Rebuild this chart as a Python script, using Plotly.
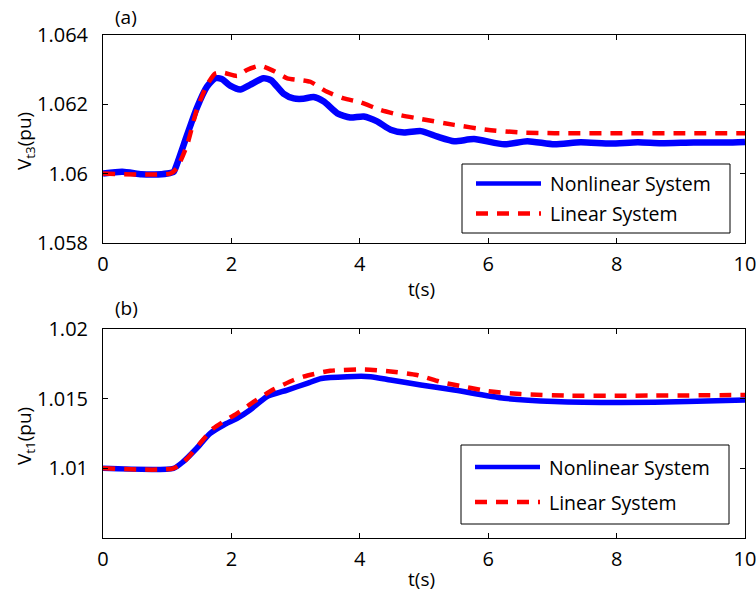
import plotly.graph_objects as go

# ---------------- data ----------------
t_nl_a = [0, 0.3, 0.6, 0.8, 1.0, 1.1, 1.15, 1.31, 1.46, 1.62, 1.75, 1.85, 1.98, 2.14, 2.29,
          2.5, 2.62, 2.81, 2.97, 3.12, 3.28, 3.44, 3.65, 3.85, 4.06, 4.27, 4.48, 4.69, 4.95,
          5.21, 5.47, 5.78, 6.25, 6.61, 7.03, 7.44, 7.91, 8.33, 8.69, 9.2, 9.7, 10]
v_nl_a = [1.0600, 1.06005, 1.05998, 1.05997, 1.06, 1.06005, 1.06026, 1.06111, 1.06188, 1.0625,
          1.06274, 1.06272, 1.06253, 1.06242, 1.06255, 1.06274, 1.06268, 1.0623, 1.06216,
          1.06215, 1.0622, 1.06207, 1.06173, 1.06161, 1.06164, 1.0615, 1.06126, 1.06118,
          1.06122, 1.06106, 1.06093, 1.06099, 1.06084, 1.06093, 1.06084, 1.0609, 1.06086,
          1.0609, 1.06087, 1.06089, 1.06089, 1.06091]

t_l_a = [0, 1.05, 1.15, 1.31, 1.46, 1.62, 1.75, 1.88, 2.09, 2.24, 2.45, 2.66, 2.87, 3.07, 3.23,
         3.49, 3.75, 4.01, 4.32, 4.63, 4.95, 5.47, 5.98, 6.5, 7.03, 8, 9, 10]
v_l_a = [1.06, 1.06, 1.06015, 1.06082, 1.06183, 1.06255, 1.06288, 1.0629, 1.06281, 1.06298,
         1.0631, 1.06295, 1.06274, 1.06269, 1.06264, 1.06235, 1.06216, 1.06205, 1.06183,
         1.06168, 1.06157, 1.0614, 1.06126, 1.06118, 1.06116, 1.06116, 1.06116, 1.06116]

t_nl_b = [0, 1.1, 1.25, 1.46, 1.67, 1.88, 2.09, 2.29, 2.55, 2.87, 3.18, 3.4, 3.8, 4.17, 4.48,
          4.95, 5.47, 6.25, 7.03, 8.07, 9.1, 10]
v_nl_b = [1.01, 1.01, 1.01048, 1.01144, 1.01251, 1.01311, 1.01359, 1.01419, 1.01514, 1.01562,
          1.0161, 1.01645, 1.01658, 1.01658, 1.01634, 1.01598, 1.01562, 1.01503, 1.01479,
          1.01472, 1.01479, 1.0149]

t_l_b = [0, 1.1, 1.3, 1.51, 1.72, 2.09, 2.35, 2.66, 2.97, 3.12, 3.54, 4.06, 4.48, 4.89, 5.26,
         5.47, 5.98, 6.5, 7.29, 8.07, 10]
v_l_b = [1.01, 1.01, 1.01065, 1.01179, 1.01287, 1.01395, 1.01478, 1.01567, 1.01634, 1.01658,
         1.017, 1.0171, 1.01695, 1.0167, 1.0162, 1.016, 1.01555, 1.01533, 1.01521, 1.01521,
         1.01526]

x_ticks = [0, 2, 4, 6, 8, 10]
y_ticks_a = [1.058, 1.06, 1.062, 1.064]
y_tick_text_a = ["1.058", "1.06", "1.062", "1.064"]
y_ticks_b = [1.01, 1.015, 1.02]
y_tick_text_b = ["1.01", "1.015", "1.02"]

names = ["Nonlinear System", "Linear System"]

# ---------------- figure ----------------
FONT = "Open Sans"
W, H = 756, 598
blue = "#0000FF"
red = "#FF0000"
DASH = "12px,9px"

fig = go.Figure()
fig.add_trace(go.Scatter(x=t_nl_a, y=v_nl_a, mode="lines", name=names[0], showlegend=False,
                         line=dict(color=blue, width=6.5, shape="spline", smoothing=0.6),
                         xaxis="x", yaxis="y"))
fig.add_trace(go.Scatter(x=t_l_a, y=v_l_a, mode="lines", name=names[1], showlegend=False,
                         line=dict(color=red, width=4.5, dash=DASH, shape="spline", smoothing=0.6),
                         xaxis="x", yaxis="y"))
fig.add_trace(go.Scatter(x=t_nl_b, y=v_nl_b, mode="lines", name=names[0], showlegend=False,
                         line=dict(color=blue, width=5.5, shape="spline", smoothing=0.6),
                         xaxis="x2", yaxis="y2"))
fig.add_trace(go.Scatter(x=t_l_b, y=v_l_b, mode="lines", name=names[1], showlegend=False,
                         line=dict(color=red, width=4.5, dash=DASH, shape="spline", smoothing=0.6),
                         xaxis="x2", yaxis="y2"))

xdom = [103 / W, 745 / W]
ydom_a = [1 - 243 / H, 1 - 34.5 / H]
ydom_b = [1 - 538 / H, 1 - 329 / H]

axis_common = dict(showline=True, linecolor="black", linewidth=1, mirror="ticks",
                   ticks="inside", ticklen=5, tickcolor="black", showgrid=False,
                   zeroline=False, automargin=False, ticklabeloverflow="allow",
                   tickfont=dict(family=FONT, size=20, color="black"))

fig.update_layout(
    width=W, height=H,
    margin=dict(l=0, r=0, t=0, b=0, autoexpand=False),
    paper_bgcolor="white", plot_bgcolor="white",
    font=dict(family=FONT, color="black"),
    xaxis=dict(domain=xdom, range=[0, 10], tickvals=x_ticks, anchor="y",
               ticklabelstandoff=3, **axis_common),
    yaxis=dict(domain=ydom_a, range=[1.058, 1.064], tickvals=y_ticks_a, ticktext=y_tick_text_a,
               anchor="x", ticklabelstandoff=10, **axis_common),
    xaxis2=dict(domain=xdom, range=[0, 10], tickvals=x_ticks, anchor="y2",
                ticklabelstandoff=3, **axis_common),
    yaxis2=dict(domain=ydom_b, range=[1.005, 1.02], tickvals=y_ticks_b, ticktext=y_tick_text_b,
                anchor="x2", ticklabelstandoff=10, **axis_common),
    showlegend=False,
)

# manual legends (box, sample lines, labels) in paper pixels
def px(x):
    return x / W

def py(y):
    return 1 - y / H

legends = [
    dict(box=(462, 164, 730, 233), rows=(183.5, 213.5)),
    dict(box=(461, 445, 729, 524), rows=(467, 502)),
]
for lg in legends:
    x0, y0, x1, y1 = lg["box"]
    fig.add_shape(type="rect", xref="paper", yref="paper",
                  x0=px(x0), x1=px(x1), y0=py(y1), y1=py(y0),
                  line=dict(color="black", width=1), fillcolor="white", layer="above")
    for i, (yy, col, dash, wdt) in enumerate(zip(lg["rows"], [blue, red], ["solid", DASH], [4.5, 4.5])):
        fig.add_shape(type="line", xref="paper", yref="paper",
                      x0=px(x0 + 14), x1=px(x0 + 79), y0=py(yy), y1=py(yy),
                      line=dict(color=col, width=wdt, dash=dash), layer="above")
        fig.add_annotation(xref="paper", yref="paper", x=px(x0 + 86), y=py(yy),
                           text=names[i], showarrow=False, xanchor="left", yanchor="middle",
                           font=dict(family=FONT, size=19.5, color="black"))

ann = [
    dict(text="(a)", x=126 / W, y=1 - 17 / H),
    dict(text="(b)", x=126 / W, y=1 - 308 / H),
    dict(text="t(s)", x=421 / W, y=1 - 289 / H),
    dict(text="t(s)", x=421 / W, y=1 - 579 / H),
    dict(text="V<sub>t3</sub>(pu)", x=25 / W, y=1 - 141 / H, textangle=-90),
    dict(text="V<sub>t1</sub>(pu)", x=25 / W, y=1 - 436 / H, textangle=-90),
]
for a in ann:
    fig.add_annotation(xref="paper", yref="paper", showarrow=False,
                       xanchor="center", yanchor="middle",
                       font=dict(family=FONT, size=19, color="black"), **a)

fig.write_html("out.html")
